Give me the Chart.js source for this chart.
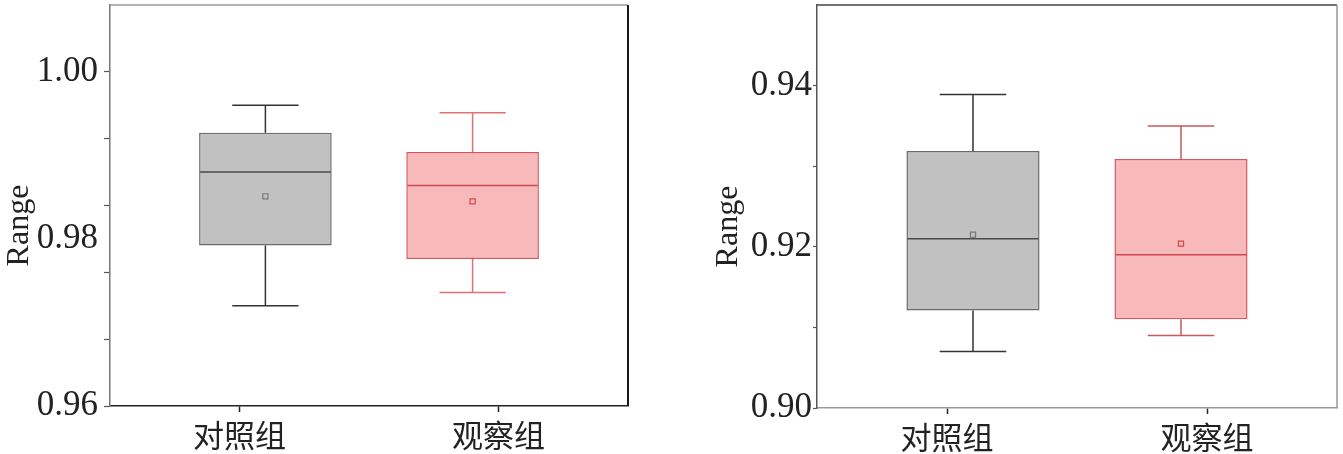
<!DOCTYPE html>
<html>
<head>
<meta charset="utf-8">
<script src="https://cdn.jsdelivr.net/npm/chart.js@4.4.0/dist/chart.umd.min.js"></script>
<style>
  body { margin: 0; background: #fff; width: 1343px; height: 454px; overflow: hidden; position: relative; }
  canvas { position: absolute; top: 0; }
  #leftChart { left: 0; }
  #rightChart { left: 680px; }
</style>
</head>
<body>
<canvas id="leftChart" width="640" height="454"></canvas>
<canvas id="rightChart" width="663" height="454"></canvas>
<script>
const groups = ['对照组', '观察组'];

// left panel (box stats per group)
const leftMin = [0.9720, 0.9736];
const leftQ1 = [0.9792, 0.9776];
const leftMedian = [0.9880, 0.9864];
const leftQ3 = [0.9927, 0.9904];
const leftMax = [0.9960, 0.9951];
const leftMean = [0.9851, 0.9845];
const leftTickMarks = [0.96, 0.968, 0.976, 0.984, 0.992, 1.0];
const leftTickLabels = [0.96, 0.98, 1.00];

// right panel
const rightMin = [0.9070, 0.9090];
const rightQ1 = [0.9121, 0.9110];
const rightMedian = [0.9210, 0.9190];
const rightQ3 = [0.9319, 0.9309];
const rightMax = [0.9389, 0.9350];
const rightMean = [0.9215, 0.9204];
const rightTickMarks = [0.90, 0.91, 0.92, 0.93, 0.94];
const rightTickLabels = [0.90, 0.92, 0.94];

const boxFill = ['#c1c1c1', '#f8b9bb'];
const boxBorder = ['#6b6b6b', '#d4575d'];
const medianColor = ['#4a4a4a', '#cc4a50'];
const meanColor = ['#777777', '#d5474d'];

const serif = "'Liberation Serif', 'Times New Roman', serif";

function has(list, v) {
  return list.some(x => Math.abs(x - v) < 1e-6);
}

function buildChart(canvasId, s) {
  const idx = groups.map((g, i) => i);
  // the axis top gets a blank tick so no room is kept for a label there
  const allTicks = [...new Set(s.marks.concat(s.labels, [s.yMax]))].sort((a, b) => a - b);

  // whiskers, caps and median drawn from the box bars
  const whiskers = {
    id: 'whiskers',
    afterDatasetDraw(chart, args) {
      if (args.index !== 1) return;
      const y = chart.scales.y;
      const ctx = chart.ctx;
      args.meta.data.forEach((bar, i) => {
        const half = bar.width / 2;
        const cap = bar.width / 4;
        const yMin = y.getPixelForValue(s.min[i]);
        const yQ1 = y.getPixelForValue(s.q1[i]);
        const yMed = y.getPixelForValue(s.median[i]);
        const yQ3 = y.getPixelForValue(s.q3[i]);
        const yMax = y.getPixelForValue(s.max[i]);
        ctx.save();
        ctx.strokeStyle = s.whiskerColor[i];
        ctx.lineWidth = 1.5;
        ctx.beginPath();
        ctx.moveTo(bar.x, yMax); ctx.lineTo(bar.x, yQ3);
        ctx.moveTo(bar.x, yQ1); ctx.lineTo(bar.x, yMin);
        ctx.moveTo(bar.x - cap, yMax); ctx.lineTo(bar.x + cap, yMax);
        ctx.moveTo(bar.x - cap, yMin); ctx.lineTo(bar.x + cap, yMin);
        ctx.stroke();
        ctx.strokeStyle = medianColor[i];
        ctx.beginPath();
        ctx.moveTo(bar.x - half + 1, yMed); ctx.lineTo(bar.x + half - 1, yMed);
        ctx.stroke();
        ctx.restore();
      });
    }
  };

  // top and right edges of the frame
  const frame = {
    id: 'frame',
    afterDraw(chart) {
      const {ctx, chartArea: a} = chart;
      ctx.save();
      ctx.lineWidth = 1.5;
      ctx.strokeStyle = s.topColor;
      ctx.beginPath();
      ctx.moveTo(a.left, a.top); ctx.lineTo(a.right, a.top);
      ctx.stroke();
      ctx.lineWidth = s.rightWidth;
      ctx.strokeStyle = s.rightColor;
      ctx.beginPath();
      ctx.moveTo(a.right, a.top); ctx.lineTo(a.right, a.bottom);
      ctx.stroke();
      ctx.restore();
    }
  };

  return new Chart(document.getElementById(canvasId), {
    type: 'bar',
    data: {
      labels: groups,
      datasets: [
        {
          type: 'scatter',
          xAxisID: 'xb',
          data: idx.map(i => ({x: i, y: s.mean[i]})),
          pointStyle: 'rect',
          pointRadius: 3.6,
          pointBorderWidth: 1.2,
          pointBorderColor: meanColor,
          pointBackgroundColor: 'rgba(0,0,0,0)'
        },
        {
          xAxisID: 'xb',
          data: idx.map(i => ({x: i, y: [s.q1[i], s.q3[i]]})),
          backgroundColor: boxFill,
          borderColor: boxBorder,
          borderWidth: 1.5,
          borderSkipped: false,
          grouped: false,
          categoryPercentage: 0.8,
          barPercentage: 0.8
        }
      ]
    },
    options: {
      responsive: false,
      animation: false,
      devicePixelRatio: 1,
      layout: {
        autoPadding: false,
        padding: {top: 5, right: s.padRight, left: 0, bottom: 0}
      },
      plugins: {
        legend: {display: false},
        tooltip: {enabled: false}
      },
      scales: {
        x: {
          type: 'category',
          offset: true,
          grid: {
            offset: false,
            drawOnChartArea: false,
            tickLength: 6,
            tickColor: '#222',
            tickWidth: 1.5
          },
          border: {display: true, color: s.xAxisColor, width: 1.5},
          ticks: {
            padding: 5,
            color: '#222',
            font: {family: "'Noto Sans CJK SC', sans-serif", size: 31}
          },
          afterFit: scale => { scale.height = s.xHeight; scale.paddingTop = 0; }
        },
        xb: {
          type: 'linear',
          axis: 'x',
          display: false,
          offset: false,
          grid: {offset: false},
          min: -0.75,
          max: 1.75,
          afterBuildTicks: scale => { scale.ticks = idx.map(i => ({value: i})); }
        },
        y: {
          min: s.yMin,
          max: s.yMax,
          afterBuildTicks: scale => { scale.ticks = allTicks.map(v => ({value: v})); },
          afterFit: scale => { scale.width = s.yWidth; scale.paddingTop = 0; },
          ticks: {
            autoSkip: false,
            padding: s.tickPad,
            color: '#222',
            font: {family: serif, size: 35},
            callback: v => {
              if (Math.abs(v - s.yMax) < 1e-6) return null;
              return has(s.labels, v) ? v.toFixed(2) : '';
            }
          },
          grid: {
            drawOnChartArea: false,
            tickLength: s.tickLen,
            tickWidth: 1.2,
            tickColor: c => has(s.marks, c.tick.value) ? '#555' : 'rgba(0,0,0,0)'
          },
          border: {display: true, color: s.yAxisColor, width: 1.5},
          title: {
            display: true,
            // trailing spaces push the word a little below the axis middle
            text: 'Range     ',
            color: '#222',
            font: {family: serif, size: 32},
            padding: {top: s.titlePad, bottom: 0}
          }
        }
      }
    },
    plugins: [whiskers, frame]
  });
}

buildChart('leftChart', {
  min: leftMin, q1: leftQ1, median: leftMedian, q3: leftQ3, max: leftMax, mean: leftMean,
  marks: leftTickMarks, labels: leftTickLabels,
  yMin: 0.96, yMax: 1.008,
  whiskerColor: ['#333333', '#e07075'],
  topColor: '#9a9a9a', rightColor: '#1a1a1a', rightWidth: 2,
  xAxisColor: '#222', yAxisColor: '#777',
  padRight: 12, xHeight: 48, yWidth: 110, tickPad: 6, tickLen: 6, titlePad: 0
});

buildChart('rightChart', {
  min: rightMin, q1: rightQ1, median: rightMedian, q3: rightQ3, max: rightMax, mean: rightMean,
  marks: rightTickMarks, labels: rightTickLabels,
  yMin: 0.90, yMax: 0.95,
  whiskerColor: ['#333333', '#c8585d'],
  topColor: '#444', rightColor: '#999', rightWidth: 1.5,
  xAxisColor: '#999', yAxisColor: '#555',
  padRight: 6, xHeight: 46, yWidth: 137, tickPad: 1, tickLen: 4, titlePad: 29
});
</script>
</body>
</html>
